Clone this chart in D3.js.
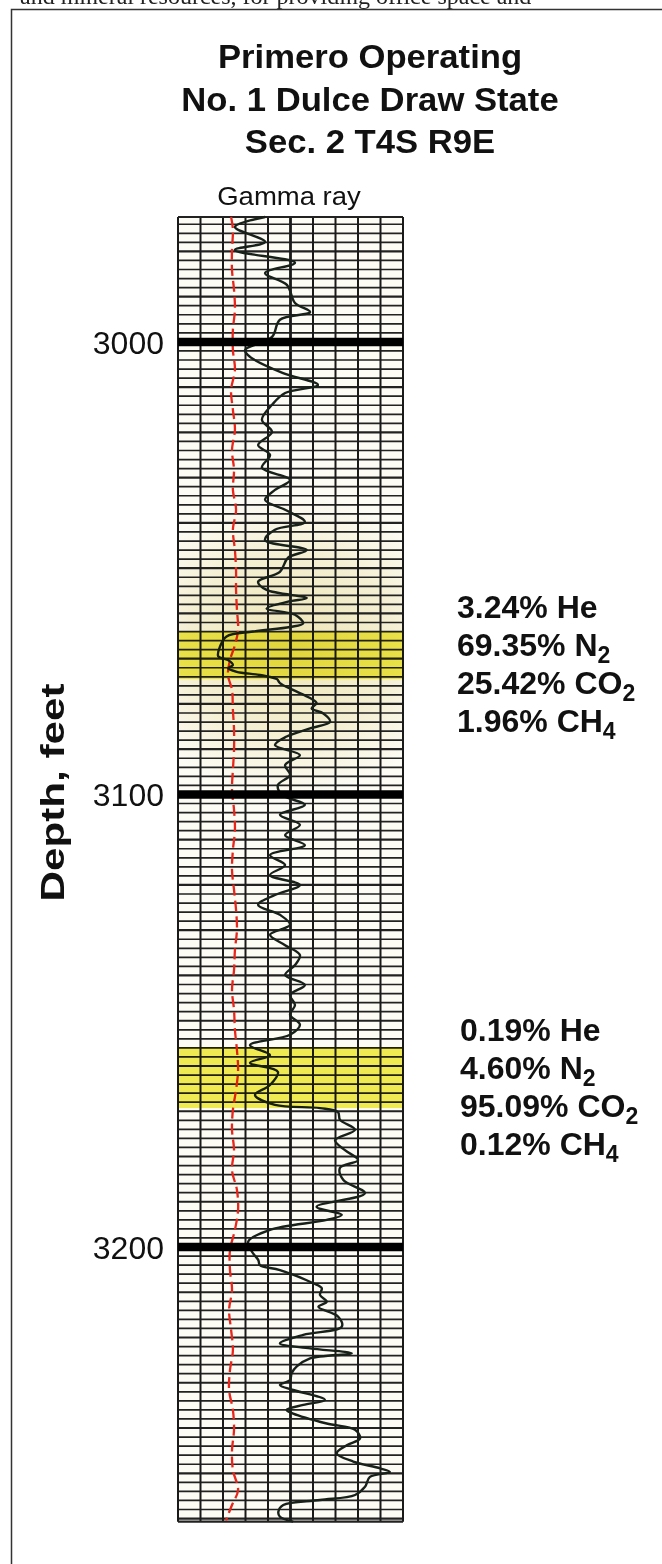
<!DOCTYPE html>
<html>
<head>
<meta charset="utf-8">
<script src="https://cdn.jsdelivr.net/npm/d3@7"></script>
<style>
    body { margin: 0; background: #fff; }
    #log-area { width: 662px; height: 1564px; overflow: hidden; }
</style>
</head>
<body>
<div id="log-area"></div>
<script>

// text cut off at the top of the page
const pageText = "and mineral resources, for providing office space and";

const titleLines = ["Primero Operating", "No. 1 Dulce Draw State", "Sec. 2 T4S R9E"];
const trackLabel = "Gamma ray";
const depthLabel = "Depth, feet";
const depthTicks = [3000, 3100, 3200];

// gamma ray curve (depth in feet, deflection in chart divisions 0-10)
const gammaDepth = [2972.4, 2974.6, 2977.9, 2979.7, 2982.5, 2984.8, 2987.4, 2991.4, 2993.4, 2995.1,
    2998.9, 3001.8, 3003.3, 3006.9, 3009.5, 3011.3, 3013.9, 3017.2, 3019.9, 3022.8,
    3025.0, 3027.8, 3030.5, 3032.7, 3034.9, 3037.1, 3039.8, 3041.5, 3043.8, 3046.0,
    3047.7, 3050.8, 3053.0, 3054.8, 3056.6, 3057.4, 3058.9, 3060.3, 3062.2, 3063.0,
    3064.0, 3065.1, 3067.3, 3069.5, 3070.3, 3071.4, 3072.1, 3072.9, 3073.6, 3074.5,
    3075.4, 3076.9, 3078.7, 3079.8, 3081.0, 3082.1, 3083.9, 3085.4, 3087.2, 3089.1,
    3091.3, 3093.5, 3095.7, 3097.9, 3100.1, 3102.3, 3104.5, 3106.7, 3109.0, 3111.2,
    3113.4, 3115.6, 3117.8, 3120.0, 3122.2, 3124.4, 3126.6, 3128.8, 3131.0, 3133.3,
    3135.5, 3137.7, 3139.9, 3142.1, 3144.3, 3146.5, 3148.7, 3150.9, 3153.1, 3155.4,
    3157.6, 3159.3, 3161.3, 3164.2, 3166.4, 3168.6, 3169.3, 3170.2, 3171.9, 3174.1,
    3176.4, 3178.6, 3180.8, 3182.5, 3185.2, 3188.1, 3191.1, 3192.9, 3194.0, 3196.2,
    3198.8, 3201.0, 3202.9, 3204.0, 3205.1, 3208.0, 3209.1, 3210.6, 3212.1, 3213.2,
    3215.4, 3217.6, 3219.4, 3221.3, 3222.4, 3223.5, 3224.6, 3226.4, 3227.9, 3229.4,
    3230.5, 3231.6, 3233.8, 3234.9, 3236.0, 3236.8, 3239.0, 3240.4, 3242.3, 3243.8,
    3245.6, 3247.4, 3248.9, 3249.7, 3250.8, 3253.0, 3254.8, 3255.9, 3257.0, 3258.5,
    3259.6, 3260.7];
const gammaValue = [3.87, 2.53, 3.87, 2.53, 5.2, 3.87, 4.84, 5.2, 5.87, 4.53,
    4.18, 2.98, 3.2, 4.67, 6.22, 4.76, 4.18, 3.73, 4.18, 3.56,
    4.09, 3.73, 4.98, 4.31, 3.87, 4.76, 5.64, 4.31, 3.87, 5.72,
    4.89, 4.53, 3.56, 3.94, 5.72, 4.89, 3.94, 5.2, 5.56, 4.98,
    3.33, 2.16, 1.87, 1.79, 2.22, 2.44, 2.22, 2.61, 3.64, 4.39,
    4.53, 5.11, 5.87, 6.16, 5.94, 6.46, 6.76, 5.87, 4.83, 4.31,
    5.42, 4.76, 4.98, 4.44, 4.62, 5.64, 4.53, 5.42, 4.76, 5.64,
    4.09, 4.76, 4.09, 5.42, 4.31, 3.56, 4.53, 4.98, 4.09, 4.76,
    5.42, 5.2, 4.76, 5.64, 4.98, 5.2, 4.98, 5.42, 4.98, 3.2,
    4.09, 3.2, 4.44, 4.09, 3.42, 4.31, 6.31, 7.11, 7.2, 7.87,
    6.98, 7.42, 8.0, 7.2, 7.35, 8.31, 6.16, 7.28, 6.61, 4.09,
    3.12, 3.28, 3.57, 3.64, 4.53, 6.01, 6.39, 6.31, 6.61, 6.24,
    7.12, 7.28, 5.57, 4.53, 5.87, 7.72, 5.87, 5.28, 5.05, 4.98,
    4.53, 5.12, 6.53, 5.57, 4.83, 5.12, 6.61, 7.87, 8.09, 7.5,
    7.05, 7.79, 8.98, 9.42, 8.53, 8.31, 7.87, 6.31, 4.68, 4.46,
    4.53, 5.12];

// red dashed curve
const redDepth = [2972.4, 2975.2, 2979.7, 2984.1, 2988.5, 2992.9, 2997.3, 3001.8, 3006.2, 3010.6,
    3015.0, 3019.4, 3023.9, 3028.3, 3032.7, 3037.1, 3041.5, 3046.0, 3050.4, 3054.8,
    3059.2, 3063.6, 3067.0, 3070.3, 3073.6, 3076.9, 3081.3, 3085.7, 3090.2, 3094.6,
    3099.0, 3103.4, 3107.8, 3112.3, 3116.7, 3121.1, 3125.5, 3129.9, 3134.4, 3138.8,
    3143.2, 3147.6, 3152.0, 3156.5, 3160.9, 3165.3, 3169.7, 3174.1, 3178.6, 3183.0,
    3187.4, 3191.8, 3196.2, 3200.7, 3205.1, 3209.5, 3213.9, 3218.3, 3222.8, 3227.2,
    3231.6, 3236.0, 3240.4, 3244.9, 3249.3, 3253.7, 3257.0, 3260.4];
const redValue = [2.36, 2.44, 2.4, 2.4, 2.49, 2.53, 2.44, 2.44, 2.53, 2.36,
    2.44, 2.53, 2.4, 2.49, 2.44, 2.58, 2.44, 2.53, 2.58, 2.58,
    2.62, 2.67, 2.53, 2.31, 2.22, 2.4, 2.44, 2.49, 2.49, 2.44,
    2.4, 2.49, 2.53, 2.44, 2.4, 2.49, 2.58, 2.62, 2.53, 2.49,
    2.4, 2.49, 2.53, 2.62, 2.67, 2.58, 2.44, 2.4, 2.49, 2.4,
    2.62, 2.67, 2.53, 2.31, 2.31, 2.4, 2.27, 2.36, 2.44, 2.31,
    2.27, 2.44, 2.49, 2.4, 2.44, 2.67, 2.4, 2.13];

// sampled zones and their gas analyses
const zoneTop = [3064.0, 3155.8];
const zoneBottom = [3074.5, 3169.3];
const gasNames = ["He", "N", "CO", "CH"];
const gasSubs = ["", "2", "2", "4"];
const gasZone1 = ["3.24%", "69.35%", "25.42%", "1.96%"];
const gasZone2 = ["0.19%", "4.60%", "95.09%", "0.12%"];


class DepthLog {

    constructor(parentElement) {
        this.parentElement = parentElement;
    }

    initVis() {
        let vis = this;

        vis.width = 662;
        vis.height = 1564;

        vis.svg = d3.select("#" + vis.parentElement)
            .append("svg")
            .attr("width", vis.width)
            .attr("height", vis.height)
            .style("font-family", "'Liberation Sans', Arial, sans-serif");

        // track scales
        vis.y = d3.scaleLinear().domain([2972.4, 3260.7]).range([217, 1521.7]);
        vis.x = d3.scaleLinear().domain([0, 10]).range([178, 403]);

        // cut-off line of body text and the figure frame (cut as in the source page)
        vis.svg.append("text")
            .attr("x", 20)
            .attr("y", 4)
            .style("font-family", "'Liberation Serif', 'Times New Roman', serif")
            .style("font-size", "24px")
            .attr("fill", "#222")
            .text(pageText);

        vis.svg.append("path")
            .attr("d", "M11.5," + vis.height + "V9.5H" + vis.width)
            .attr("fill", "none")
            .attr("stroke", "#333")
            .attr("stroke-width", 1.5);

        // title, slightly wide lettering
        vis.svg.append("g").selectAll("text")
            .data(titleLines)
            .enter()
            .append("text")
            .attr("transform", (d, i) => "translate(370," + [68, 111, 153][i] + ") scale(1.05,1)")
            .attr("text-anchor", "middle")
            .style("font-size", "33px")
            .style("font-weight", "bold")
            .attr("fill", "#111")
            .text(d => d);

        vis.svg.append("text")
            .attr("transform", "translate(289,205) scale(1.1,1)")
            .attr("text-anchor", "middle")
            .style("font-size", "25px")
            .attr("fill", "#111")
            .text(trackLabel);

        const x0 = vis.x.range()[0], x1 = vis.x.range()[1];
        const y0 = vis.y.range()[0], y1 = vis.y.range()[1];

        // paper background with a faint yellow stain around the upper zone
        const defs = vis.svg.append("defs");
        defs.append("clipPath").attr("id", "track-clip")
            .append("rect")
            .attr("x", x0).attr("y", y0)
            .attr("width", x1 - x0).attr("height", y1 - y0);
        const grad = defs.append("radialGradient").attr("id", "stain");
        grad.append("stop").attr("offset", "0%").attr("stop-color", "#ece3b0").attr("stop-opacity", 0.9);
        grad.append("stop").attr("offset", "60%").attr("stop-color", "#ece3b0").attr("stop-opacity", 0.5);
        grad.append("stop").attr("offset", "100%").attr("stop-color", "#ece3b0").attr("stop-opacity", 0);

        vis.svg.append("rect")
            .attr("x", x0).attr("y", y0)
            .attr("width", x1 - x0).attr("height", y1 - y0)
            .attr("fill", "#fcfbf4");

        vis.svg.append("ellipse")
            .attr("clip-path", "url(#track-clip)")
            .attr("cx", (x0 + x1) / 2)
            .attr("cy", vis.y(3067))
            .attr("rx", 170)
            .attr("ry", 150)
            .attr("fill", "url(#stain)");

        // horizontal grid, every 2 ft
        const grid = vis.svg.append("g");
        grid.selectAll(".h-line")
            .data(d3.range(2974, 3261, 2))
            .enter()
            .append("line")
            .attr("class", "h-line")
            .attr("x1", x0).attr("x2", x1)
            .attr("y1", d => vis.y(d)).attr("y2", d => vis.y(d))
            .attr("stroke", "#222")
            .attr("stroke-width", d => d % 10 === 0 ? 2.2 : 1.7);

        // vertical grid
        grid.selectAll(".v-line")
            .data(d3.range(0, 11))
            .enter()
            .append("line")
            .attr("class", "v-line")
            .attr("x1", d => vis.x(d)).attr("x2", d => vis.x(d))
            .attr("y1", y0).attr("y2", y1)
            .attr("stroke", "#1a1a1a")
            .attr("stroke-width", d => d === 5 ? 2.8 : 2);

        grid.append("line")
            .attr("x1", x0).attr("x2", x1)
            .attr("y1", y0).attr("y2", y0)
            .attr("stroke", "#222").attr("stroke-width", 1.8);
        grid.append("line")
            .attr("x1", x0).attr("x2", x1)
            .attr("y1", y1).attr("y2", y1)
            .attr("stroke", "#222").attr("stroke-width", 2.2);

        // curves
        const gammaData = gammaDepth.map((d, i) => ({ depth: d, value: gammaValue[i] }));
        const redData = redDepth.map((d, i) => ({ depth: d, value: redValue[i] }));

        const line = d3.line()
            .x(d => vis.x(d.value))
            .y(d => vis.y(d.depth))
            .curve(d3.curveCatmullRom.alpha(0.5));

        vis.svg.append("path")
            .datum(redData)
            .attr("d", line)
            .attr("fill", "none")
            .attr("stroke", "#e8261c")
            .attr("stroke-width", 2.3)
            .attr("stroke-dasharray", "11,5");

        vis.svg.append("path")
            .datum(gammaData)
            .attr("d", line)
            .attr("fill", "none")
            .attr("stroke", "#17211a")
            .attr("stroke-width", 2.4);

        // 100-ft depth lines
        vis.svg.append("g").selectAll("line")
            .data(depthTicks)
            .enter()
            .append("line")
            .attr("x1", x0).attr("x2", x1)
            .attr("y1", d => vis.y(d)).attr("y2", d => vis.y(d))
            .attr("stroke", "#000")
            .attr("stroke-width", 8.5);

        // highlighted zones
        vis.svg.append("g").selectAll("rect")
            .data(zoneTop)
            .enter()
            .append("rect")
            .attr("x", x0)
            .attr("width", x1 - x0)
            .attr("y", d => vis.y(d))
            .attr("height", (d, i) => vis.y(zoneBottom[i]) - vis.y(d))
            .attr("fill", "#f2ec3e")
            .attr("opacity", 0.88)
            .style("mix-blend-mode", "multiply");

        // depth labels
        vis.svg.append("g").selectAll("text")
            .data(depthTicks)
            .enter()
            .append("text")
            .attr("x", 164)
            .attr("y", d => vis.y(d) + 12)
            .attr("text-anchor", "end")
            .style("font-size", "32px")
            .attr("fill", "#111")
            .text(d => d);

        vis.svg.append("text")
            .attr("transform", "translate(64," + (vis.y(3100) - 2) + ") rotate(-90) scale(1.28,1)")
            .attr("text-anchor", "middle")
            .style("font-size", "33px")
            .style("font-weight", "bold")
            .attr("fill", "#111")
            .text(depthLabel);

        // gas analyses beside each zone
        [gasZone1, gasZone2].forEach((pcts, z) => {
            const mid = vis.y((zoneTop[z] + zoneBottom[z]) / 2);
            const block = vis.svg.append("g");
            pcts.forEach((p, i) => {
                const t = block.append("text")
                    .attr("x", z === 0 ? 457 : 460)
                    .attr("y", mid - 37 + i * 38)
                    .style("font-size", "32px")
                    .style("font-weight", "bold")
                    .attr("fill", "#111")
                    .text(p + " " + gasNames[i]);
                if (gasSubs[i]) {
                    t.append("tspan")
                        .attr("dy", 7)
                        .style("font-size", "23px")
                        .text(gasSubs[i]);
                }
            });
        });
    }
}

let depthLog = new DepthLog("log-area");
depthLog.initVis();

</script>
</body>
</html>
